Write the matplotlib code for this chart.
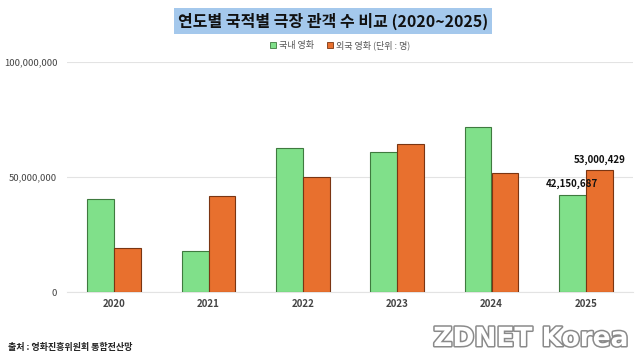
import matplotlib
matplotlib.use("Agg")
import matplotlib.pyplot as plt
import matplotlib.patheffects as pe
from matplotlib.patches import Patch
from matplotlib.ticker import FuncFormatter
import numpy as np

plt.rcParams['font.family'] = ['Noto Sans CJK KR', 'DejaVu Sans']

years = ['2020', '2021', '2022', '2023', '2024', '2025']
domestic = [40300000, 18000000, 62700000, 60700000, 71600000, 42150687]
foreign = [19000000, 41900000, 49900000, 64300000, 51600000, 53000429]
series_names = ['국내 영화', '외국 영화 (단위 : 명)']
title = '연도별 국적별 극장 관객 수 비교 (2020~2025)'
source = '출처 : 영화진흥위원회 통합전산망'

green = '#80E08A'
green_edge = '#3F7A3F'
orange = '#E8702E'
orange_edge = '#7A3512'

fig = plt.figure(figsize=(6.4, 3.6), dpi=100)
fig.patch.set_facecolor('white')
ax = fig.add_axes([67/640, 1-292/360, (633-67)/640, (292-62)/360])

x = np.arange(len(years))
w = 0.286
ax.bar(x - w/2, domestic, w, color=green, edgecolor=green_edge, linewidth=0.8, zorder=3)
ax.bar(x + w/2, foreign, w, color=orange, edgecolor=orange_edge, linewidth=0.8, zorder=3)

ax.set_xlim(-0.5, 5.5)
ax.set_ylim(0, 100000000)
ax.set_yticks([0, 50000000, 100000000])
ax.yaxis.set_major_formatter(FuncFormatter(lambda v, p: f'{int(v):,}'))
ax.set_xticks(x)
ax.set_xticklabels(years, fontsize=7, fontweight='bold', color='#444444')
for lab in ax.get_yticklabels():
    lab.set_fontsize(6.8)
    lab.set_color('#444444')
ax.tick_params(axis='both', length=0, pad=5)
ax.tick_params(axis='y', pad=7)
ax.grid(axis='y', color='#E3E3E3', linewidth=0.8, zorder=0)
for s in ['top', 'right', 'left']:
    ax.spines[s].set_visible(False)
ax.spines['bottom'].set_color('#E3E3E3')
ax.spines['bottom'].set_linewidth(0.8)

# annotations for 2025
i = len(years) - 1
ax.annotate(f'{domestic[i]:,}', (x[i] - w/2, domestic[i]), xytext=(0, 4),
            textcoords='offset points', ha='center', va='bottom',
            fontsize=7, fontweight='bold', color='#111111', zorder=5)
ax.annotate(f'{foreign[i]:,}', (x[i] + w/2, foreign[i]), xytext=(0, 4),
            textcoords='offset points', ha='center', va='bottom',
            fontsize=7, fontweight='bold', color='#111111', zorder=5)

# title
fig.text(333/640, 1-21/360, title, ha='center', va='center', fontsize=11.5,
         fontweight='bold', color='#111111',
         bbox=dict(boxstyle='square,pad=0.25', facecolor='#A4C8EC', edgecolor='none'))

# legend
handles = [Patch(facecolor=green, edgecolor=green_edge, linewidth=0.6),
           Patch(facecolor=orange, edgecolor=orange_edge, linewidth=0.6)]
fig.legend(handles, series_names, loc='center', bbox_to_anchor=(340/640, 1-45/360),
           ncol=2, frameon=False, fontsize=6.5, handlelength=0.7, handleheight=0.7,
           handletextpad=0.3, columnspacing=1.4, labelcolor='#555555')

# source
fig.text(8/640, 1-347/360, source, ha='left', va='center', fontsize=6.5,
         fontweight='bold', color='#222222')

# logo
t = fig.text(628/640, 1-339/360, 'ZDNET Korea', ha='right', va='center', fontsize=19,
             fontweight='bold', color='white', family=['DejaVu Sans'])
t.set_path_effects([pe.withStroke(linewidth=2.2, foreground='#8A8A8A')])

fig.savefig('out.png', dpi=100, facecolor='white')
